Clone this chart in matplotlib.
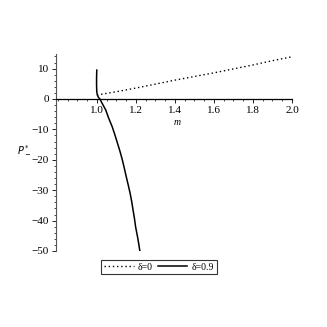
import matplotlib.pyplot as plt
from matplotlib.ticker import MultipleLocator

# delta = 0 (dotted)
m_d0 = [1.0, 1.1, 1.2, 1.3, 1.4, 1.5, 1.6, 1.7, 1.8, 1.9, 2.0]
p_d0 = [1.3, 2.4, 3.6, 4.9, 6.2, 7.4, 8.6, 9.9, 11.2, 12.6, 13.9]

# delta = 0.9 (solid)
m_d9 = [0.999, 0.998, 0.998, 0.999, 1.002, 1.007, 1.015, 1.028, 1.045, 1.06, 1.078, 1.092,
        1.105, 1.118, 1.13, 1.14, 1.15, 1.16, 1.17, 1.178, 1.185, 1.192, 1.198, 1.204, 1.21, 1.215, 1.22]
p_d9 = [9.5, 7, 4.5, 2.5, 1.3, 0.6, 0, -1.6, -3.6, -6.3, -9.1, -11.8,
        -14.5, -17.2, -20, -22.7, -25.5, -28.2, -31, -33.7, -36.5, -39.2, -42, -44, -46, -48, -50]

plt.rcParams['font.family'] = ['Liberation Serif', 'DejaVu Serif']

fig = plt.figure(figsize=(3.27, 3.27), dpi=100)
ax = fig.add_axes([56/327, 1-251/327, (292-56)/327, (251-54)/327])

ax.plot(m_d0, p_d0, color='black', linestyle=(0, (1, 2)), linewidth=1.0, label='δ=0')
ax.plot(m_d9, p_d9, color='black', linestyle='-', linewidth=1.1, label='δ=0.9')

ax.set_xlim(0.79, 2.0)
ax.set_ylim(-50, 14.8)

ax.spines['top'].set_visible(False)
ax.spines['right'].set_visible(False)
ax.spines['bottom'].set_position(('data', 0))
ax.spines['left'].set_color('#555555')
ax.spines['bottom'].set_linewidth(0.9)

ax.set_xticks([1.0, 1.2, 1.4, 1.6, 1.8, 2.0])
ax.set_xticklabels(['1.0', '1.2', '1.4', '1.6', '1.8', '2.0'])
ax.xaxis.set_minor_locator(MultipleLocator(0.05))
ax.set_yticks([10, 0, -10, -20, -30, -40, -50])
ax.set_yticklabels(['10', '0', '−10', '−20', '−30', '−40', '−50'])
ax.yaxis.set_minor_locator(MultipleLocator(2))
ax.tick_params(axis='both', which='major', labelsize=8, length=3, width=0.6, direction='out', pad=2)
ax.tick_params(axis='both', which='minor', length=1.5, width=0.5, direction='out')

ax.text(1.41, -7.6, 'm', fontsize=7, style='italic', ha='center', va='center')
fig.text(24/327, 1-150/327, '$P^*_-$', fontsize=7, ha='center', va='center')

leg = ax.legend(loc='center', bbox_to_anchor=(159/327, 1-267/327), bbox_transform=fig.transFigure,
                ncol=2, fontsize=7, frameon=True, fancybox=False, edgecolor='black',
                handlelength=3, handletextpad=0.4, columnspacing=0.6, borderpad=0.3)
leg.get_frame().set_linewidth(0.8)

fig.savefig('out.png', dpi=100)
